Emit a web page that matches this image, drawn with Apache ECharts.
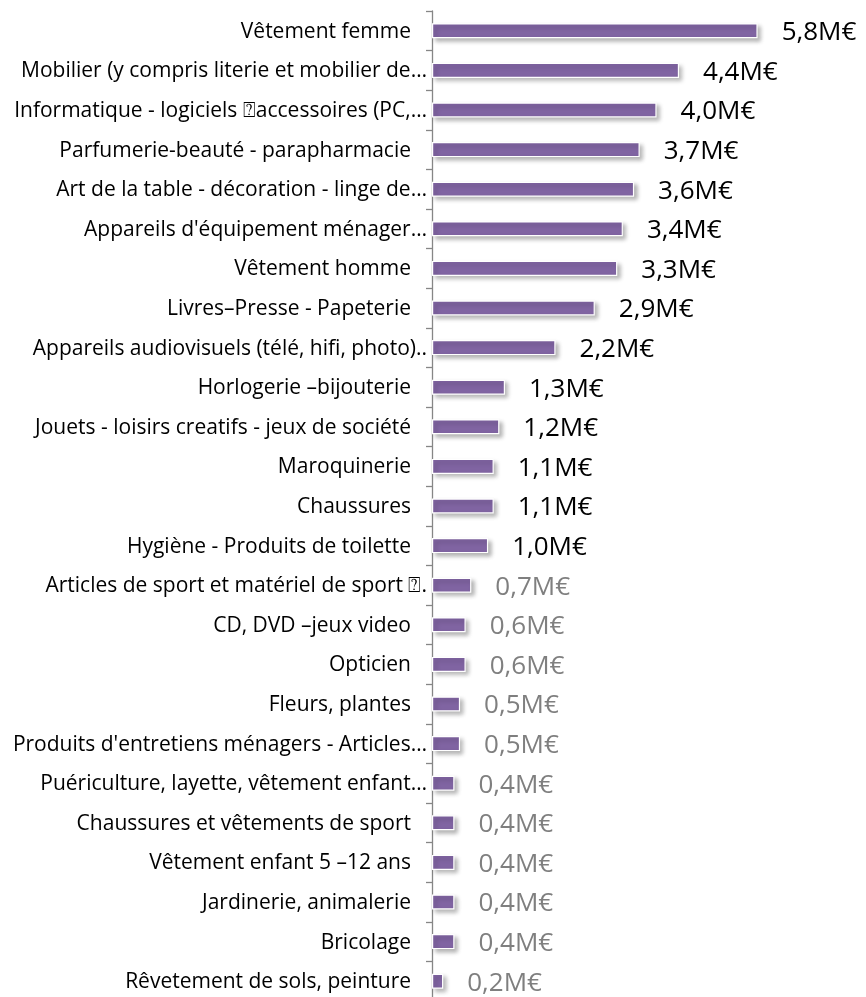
<!DOCTYPE html>
<html>
<head>
<meta charset="utf-8">
<script src="https://cdn.jsdelivr.net/npm/echarts@6/dist/echarts.min.js"></script>
<style>
  html, body { margin: 0; padding: 0; background: #ffffff; }
  #chart { width: 866px; height: 997px; }
</style>
</head>
<body>
<div id="chart"></div>
<script>
// Sales by product category, in millions of euros (top to bottom)
var categories = [
  "Vêtement femme ",
  "Mobilier (y compris literie et mobilier de…",
  "Informatique - logiciels ⍰accessoires (PC,…",
  "Parfumerie-beauté - parapharmacie ",
  "Art de la table - décoration - linge de…",
  "Appareils d'équipement ménager…",
  "Vêtement homme ",
  "Livres–Presse - Papeterie ",
  "Appareils audiovisuels (télé, hifi, photo)..",
  "Horlogerie –bijouterie ",
  "Jouets - loisirs creatifs - jeux de société ",
  "Maroquinerie ",
  "Chaussures ",
  "Hygiène - Produits de toilette ",
  "Articles de sport et matériel de sport ⍰.",
  "CD, DVD –jeux video ",
  "Opticien ",
  "Fleurs, plantes ",
  "Produits d'entretiens ménagers - Articles…",
  "Puériculture, layette, vêtement enfant…",
  "Chaussures et vêtements de sport ",
  "Vêtement enfant 5 –12 ans ",
  "Jardinerie, animalerie ",
  "Bricolage ",
  "Rêvetement de sols, peinture "
];

var values = [5.8, 4.4, 4.0, 3.7, 3.6, 3.4, 3.3, 2.9, 2.2, 1.3, 1.2, 1.1, 1.1, 1.0,
              0.7, 0.6, 0.6, 0.5, 0.5, 0.4, 0.4, 0.4, 0.4, 0.4, 0.2];

// Values below this threshold get a grey label
var minorThreshold = 1.0;

var labelFont = '"Open Sans", sans-serif';

var chart = echarts.init(document.getElementById('chart'), null, { renderer: 'canvas' });

var seriesData = values.map(function (v) {
  return {
    value: v,
    label: { color: v < minorThreshold ? '#7f7f7f' : '#000000' }
  };
});

chart.setOption({
  backgroundColor: '#ffffff',
  animation: false,
  grid: {
    left: 432, top: 11, width: 393, height: 990,
    containLabel: false,
    outerBoundsMode: 'none'
  },
  xAxis: {
    type: 'value',
    min: 0,
    max: 7,
    show: false
  },
  yAxis: {
    type: 'category',
    data: categories,
    inverse: true,
    axisLine: { show: true, lineStyle: { color: '#868686', width: 1.3 } },
    axisTick: { show: true, length: 6, lineStyle: { color: '#868686', width: 1.3 } },
    axisLabel: {
      margin: 4,
      color: '#000000',
      fontFamily: labelFont,
      fontSize: 21,
      interval: 0,
      // names ending in a space sit a little further from the axis
      formatter: function (name) {
        if (/\s$/.test(name)) {
          return '{pad|' + name.replace(/\s+$/, '') + '}';
        }
        return '{plain|' + name + '}';
      },
      rich: {
        pad: { fontFamily: labelFont, fontSize: 21, color: '#000000', padding: [2, 17, 0, 0] },
        plain: { fontFamily: labelFont, fontSize: 21, color: '#000000', padding: [2, 1, 0, 0] }
      }
    },
    splitLine: { show: false }
  },
  series: [{
    type: 'bar',
    data: seriesData,
    barWidth: 15,
    itemStyle: {
      color: '#8064a2',
      borderColor: '#ffffff',
      borderWidth: 1.2,
      shadowColor: 'rgba(0,0,0,0.28)',
      shadowBlur: 4,
      shadowOffsetX: 3,
      shadowOffsetY: 3
    },
    label: {
      show: true,
      position: 'right',
      distance: 24,
      offset: [0, 2],
      fontFamily: labelFont,
      fontSize: 26,
      formatter: function (p) {
        return p.value.toFixed(1).replace('.', ',') + 'M€';
      }
    }
  }]
});
</script>
</body>
</html>
